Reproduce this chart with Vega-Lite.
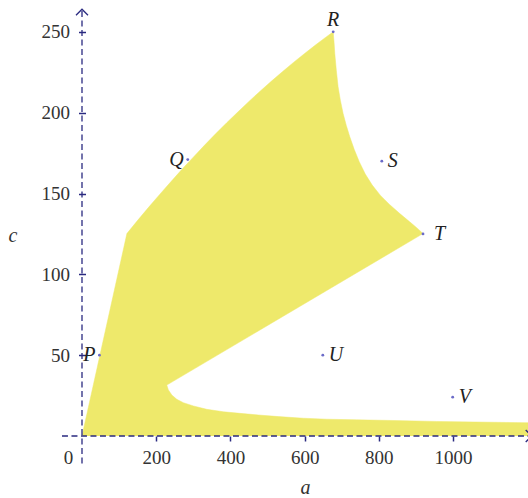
{
  "$schema": "https://vega.github.io/schema/vega-lite/v6.json",
  "width": 446,
  "height": 430,
  "autosize": {"type": "none"},
  "padding": {"left": 82, "top": 6, "right": 0, "bottom": 62},
  "config": {"view": {"stroke": null}, "font": "Liberation Serif"},
  "datasets": {
    "region": [
      {"i": 0, "a": 0, "c": 0},
      {"i": 1, "a": 121, "c": 125.2},
      {"i": 2, "a": 150, "c": 133.4},
      {"i": 3, "a": 180, "c": 141.6},
      {"i": 4, "a": 210, "c": 149.6},
      {"i": 5, "a": 240, "c": 157.4},
      {"i": 6, "a": 270, "c": 165.1},
      {"i": 7, "a": 300, "c": 172.5},
      {"i": 8, "a": 330, "c": 179.8},
      {"i": 9, "a": 360, "c": 186.9},
      {"i": 10, "a": 390, "c": 193.8},
      {"i": 11, "a": 420, "c": 200.4},
      {"i": 12, "a": 450, "c": 207},
      {"i": 13, "a": 480, "c": 213.3},
      {"i": 14, "a": 510, "c": 219.4},
      {"i": 15, "a": 540, "c": 225.3},
      {"i": 16, "a": 570, "c": 231.1},
      {"i": 17, "a": 600, "c": 236.6},
      {"i": 18, "a": 630, "c": 242},
      {"i": 19, "a": 660, "c": 247.2},
      {"i": 20, "a": 677, "c": 250},
      {"i": 21, "a": 679.4, "c": 243.3},
      {"i": 22, "a": 681.3, "c": 236.6},
      {"i": 23, "a": 685.4, "c": 226.3},
      {"i": 24, "a": 690.2, "c": 216},
      {"i": 25, "a": 696.4, "c": 207.6},
      {"i": 26, "a": 703.7, "c": 199.5},
      {"i": 27, "a": 712.3, "c": 192.1},
      {"i": 28, "a": 721.7, "c": 185.1},
      {"i": 29, "a": 733.8, "c": 177.2},
      {"i": 30, "a": 747.2, "c": 169.7},
      {"i": 31, "a": 763.4, "c": 162.1},
      {"i": 32, "a": 782.2, "c": 155.2},
      {"i": 33, "a": 803.7, "c": 149},
      {"i": 34, "a": 828, "c": 143.4},
      {"i": 35, "a": 854.9, "c": 137.9},
      {"i": 36, "a": 883.1, "c": 132.5},
      {"i": 37, "a": 901.9, "c": 128.9},
      {"i": 38, "a": 919, "c": 125.2},
      {"i": 39, "a": 228.5, "c": 31.5},
      {"i": 40, "a": 232.8, "c": 28.5},
      {"i": 41, "a": 242, "c": 25.4},
      {"i": 42, "a": 255.4, "c": 22.7},
      {"i": 43, "a": 273.2, "c": 20.6},
      {"i": 44, "a": 300.1, "c": 18.6},
      {"i": 45, "a": 336.2, "c": 16.5},
      {"i": 46, "a": 380.8, "c": 15},
      {"i": 47, "a": 425.7, "c": 14},
      {"i": 48, "a": 475, "c": 13},
      {"i": 49, "a": 530, "c": 12},
      {"i": 50, "a": 596, "c": 11},
      {"i": 51, "a": 659, "c": 10.4},
      {"i": 52, "a": 740, "c": 10},
      {"i": 53, "a": 838, "c": 9.6},
      {"i": 54, "a": 955, "c": 9},
      {"i": 55, "a": 1107, "c": 8.5},
      {"i": 56, "a": 1202, "c": 8.2},
      {"i": 57, "a": 1202, "c": 0}
    ],
    "axes": [
      {"a": -54, "c": 0, "a2": 1212, "c2": 0},
      {"a": 0, "c": -17, "a2": 0, "c2": 264}
    ],
    "points": [
      {"label": "P", "a": 47, "c": 50},
      {"label": "Q", "a": 285, "c": 171},
      {"label": "R", "a": 677, "c": 250},
      {"label": "S", "a": 808, "c": 170},
      {"label": "T", "a": 919, "c": 125},
      {"label": "U", "a": 649, "c": 50},
      {"label": "V", "a": 999, "c": 24}
    ]
  },
  "layer": [
    {
      "data": {"name": "region"},
      "mark": {"type": "line", "fill": "#EEE96B", "stroke": "#EEE96B", "strokeWidth": 0.5},
      "encoding": {
        "x": {
          "field": "a", "type": "quantitative", "title": "a",
          "scale": {"domain": [0, 1202], "nice": false, "zero": false},
          "axis": {
            "values": [0, 200, 400, 600, 800, 1000],
            "format": "d",
            "domain": false, "grid": false,
            "tickColor": "#2a2a80", "tickWidth": 1.5, "tickSize": 5,
            "tickOpacity": {"condition": {"test": "datum.value == 0", "value": 0}, "value": 1},
            "labelFont": "Liberation Serif", "labelFontSize": 19, "labelColor": "#333333",
            "labelPadding": 7, "labelFlush": false, "labelOverlap": false, "labelBound": false,
            "labelOffset": {"condition": {"test": "datum.value == 0", "value": -14}, "value": 0},
            "title": "a", "titleFont": "Liberation Serif", "titleFontStyle": "italic",
            "titleFontWeight": "normal", "titleFontSize": 20, "titleColor": "#333333",
            "titleY": 57, "titleBaseline": "alphabetic"
          }
        },
        "y": {
          "field": "c", "type": "quantitative", "title": "c",
          "scale": {"domain": [0, 266], "nice": false, "zero": false},
          "axis": {
            "values": [50, 100, 150, 200, 250],
            "format": "d",
            "offset": -3.5,
            "domain": false, "grid": false,
            "tickColor": "#2a2a80", "tickWidth": 1.5, "tickSize": 7,
            "labelFont": "Liberation Serif", "labelFontSize": 19, "labelColor": "#333333",
            "labelPadding": 9, "labelFlush": false, "labelOverlap": false, "labelBound": false,
            "title": "c", "titleFont": "Liberation Serif", "titleFontStyle": "italic",
            "titleFontWeight": "normal", "titleFontSize": 20, "titleColor": "#333333",
            "titleAngle": 0, "titleX": -73, "titleY": 229, "titleAlign": "center", "titleBaseline": "middle"
          }
        },
        "order": {"field": "i", "type": "quantitative"}
      }
    },
    {
      "data": {"name": "axes"},
      "mark": {"type": "rule", "stroke": "#2a2a80", "strokeWidth": 1.3, "strokeDash": [6, 3.5]},
      "encoding": {
        "x": {"field": "a", "type": "quantitative", "title": "a"},
        "x2": {"field": "a2"},
        "y": {"field": "c", "type": "quantitative", "title": "c"},
        "y2": {"field": "c2"}
      }
    },
    {
      "data": {"values": [{"a": 0, "c": 264}]},
      "mark": {"type": "point", "shape": "M-1,1L0,0L1,1", "filled": false, "stroke": "#2a2a80", "strokeWidth": 1.3, "size": 144, "opacity": 1},
      "encoding": {
        "x": {"field": "a", "type": "quantitative", "title": "a"},
        "y": {"field": "c", "type": "quantitative", "title": "c"}
      }
    },
    {
      "data": {"values": [{"a": 1212, "c": 0}]},
      "mark": {"type": "point", "shape": "M-1,-1L0,0L-1,1", "filled": false, "stroke": "#2a2a80", "strokeWidth": 1.3, "size": 144, "opacity": 1},
      "encoding": {
        "x": {"field": "a", "type": "quantitative", "title": "a"},
        "y": {"field": "c", "type": "quantitative", "title": "c"}
      }
    },
    {
      "data": {"name": "points"},
      "mark": {"type": "point", "filled": true, "color": "#6b6bc8", "size": 8, "opacity": 1},
      "encoding": {
        "x": {"field": "a", "type": "quantitative", "title": "a"},
        "y": {"field": "c", "type": "quantitative", "title": "c"}
      }
    },
    {
      "data": {"name": "points"},
      "transform": [{"filter": "datum.label == 'P' || datum.label == 'Q'"}],
      "mark": {"type": "text", "align": "right", "baseline": "middle", "dx": -4, "font": "Liberation Serif", "fontStyle": "italic", "fontSize": 20, "color": "#222222"},
      "encoding": {
        "x": {"field": "a", "type": "quantitative", "title": "a"},
        "y": {"field": "c", "type": "quantitative", "title": "c"},
        "text": {"field": "label"}
      }
    },
    {
      "data": {"name": "points"},
      "transform": [{"filter": "datum.label == 'R'"}],
      "mark": {"type": "text", "align": "center", "baseline": "middle", "dy": -12, "font": "Liberation Serif", "fontStyle": "italic", "fontSize": 20, "color": "#222222"},
      "encoding": {
        "x": {"field": "a", "type": "quantitative", "title": "a"},
        "y": {"field": "c", "type": "quantitative", "title": "c"},
        "text": {"field": "label"}
      }
    },
    {
      "data": {"name": "points"},
      "transform": [{"filter": "datum.label == 'S' || datum.label == 'U' || datum.label == 'V'"}],
      "mark": {"type": "text", "align": "left", "baseline": "middle", "dx": 6, "font": "Liberation Serif", "fontStyle": "italic", "fontSize": 20, "color": "#222222"},
      "encoding": {
        "x": {"field": "a", "type": "quantitative", "title": "a"},
        "y": {"field": "c", "type": "quantitative", "title": "c"},
        "text": {"field": "label"}
      }
    },
    {
      "data": {"name": "points"},
      "transform": [{"filter": "datum.label == 'T'"}],
      "mark": {"type": "text", "align": "left", "baseline": "middle", "dx": 11, "font": "Liberation Serif", "fontStyle": "italic", "fontSize": 20, "color": "#222222"},
      "encoding": {
        "x": {"field": "a", "type": "quantitative", "title": "a"},
        "y": {"field": "c", "type": "quantitative", "title": "c"},
        "text": {"field": "label"}
      }
    }
  ]
}
